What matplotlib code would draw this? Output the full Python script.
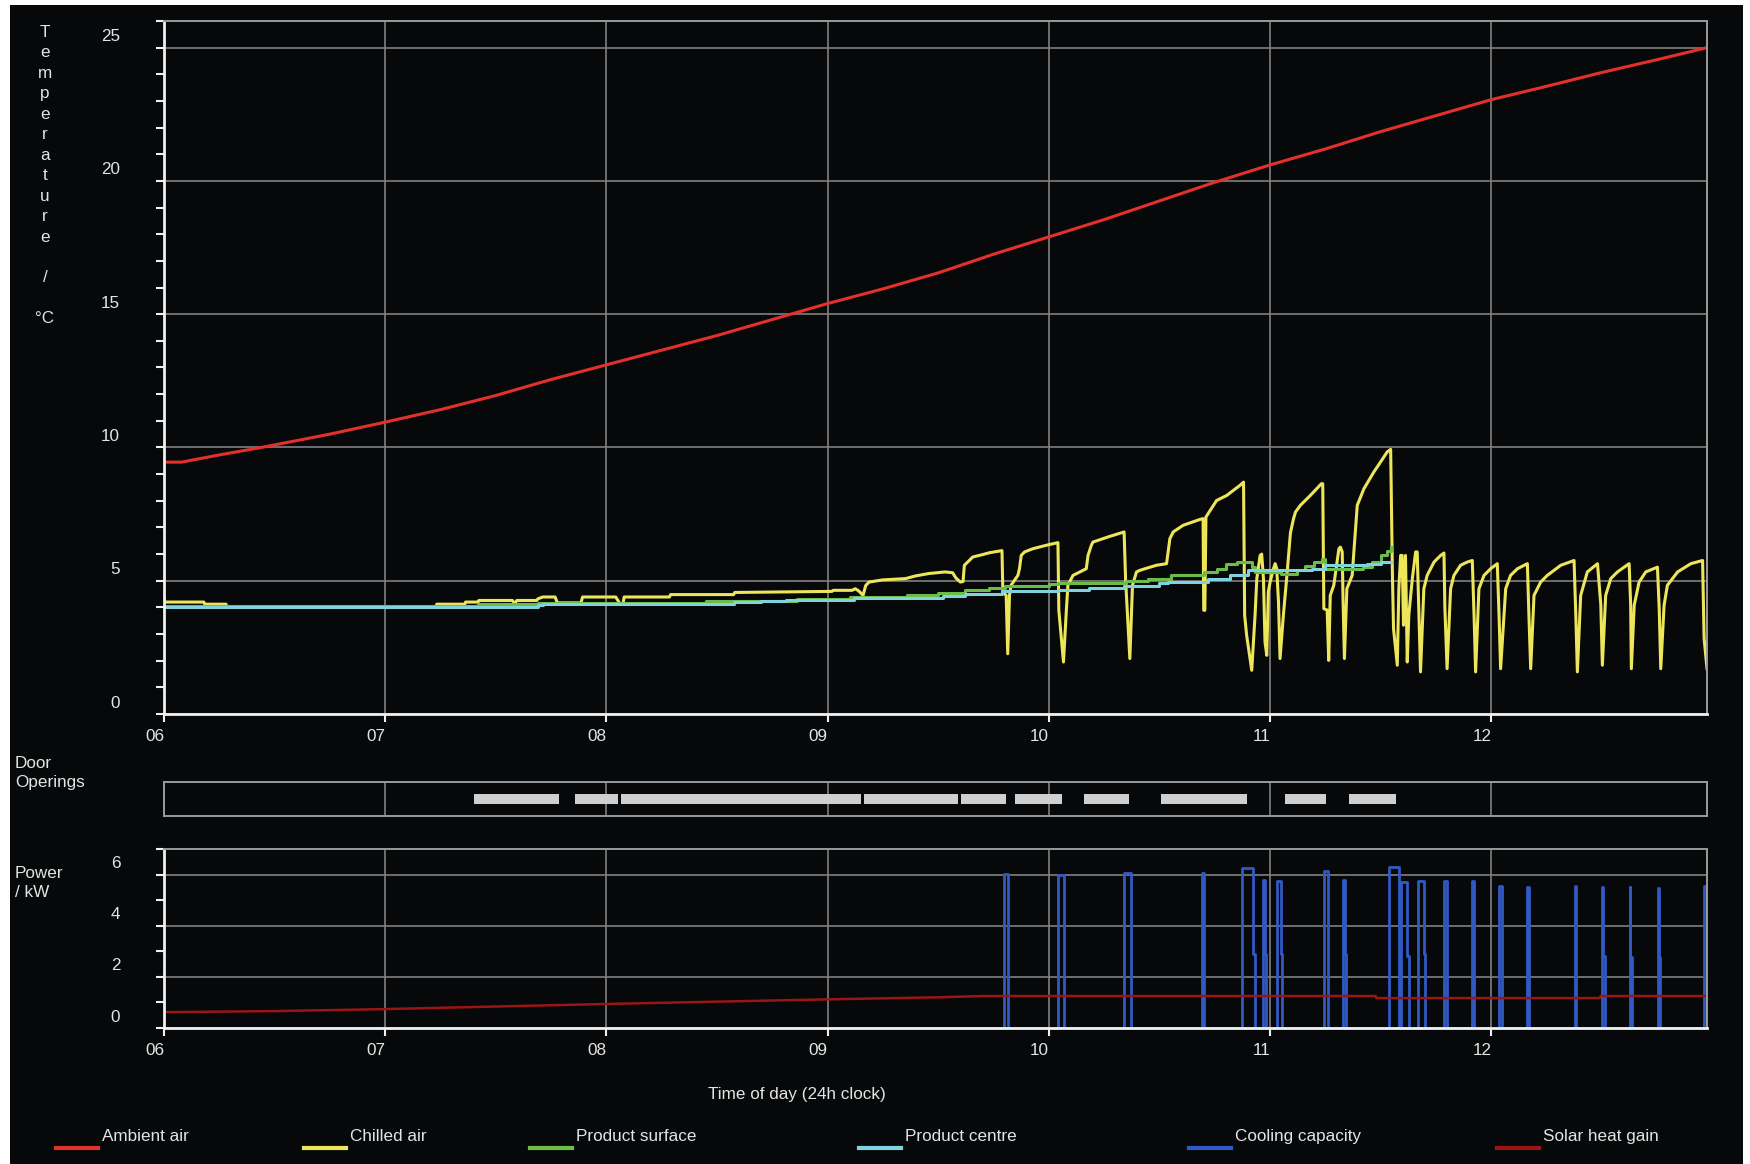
import numpy as np
import matplotlib
matplotlib.use("Agg")
import matplotlib.pyplot as plt
from matplotlib.lines import Line2D
from matplotlib.patches import Rectangle
from matplotlib.ticker import MultipleLocator
from matplotlib.transforms import ScaledTranslation

plt.rcParams['font.family'] = ['Liberation Sans', 'DejaVu Sans']

# ---------------------------------------------------------------- data
hours = [6, 7, 8, 9, 10, 11, 12]
hour_labels = ["06", "07", "08", "09", "10", "11", "12"]
t_end = 12.975

temp_ticks = [0, 5, 10, 15, 20, 25]
power_ticks = [0, 2, 4, 6]

# Ambient air temperature (h, degC)
ambient_t = [6.00, 6.08, 6.25, 6.44, 6.75, 7.00, 7.25, 7.50, 7.75, 8.00, 8.25, 8.50,
             8.75, 9.00, 9.25, 9.50, 9.75, 10.00, 10.25, 10.50, 10.75, 11.00, 11.25,
             11.50, 11.75, 12.00, 12.25, 12.50, 12.75, 12.975]
ambient_v = [9.45, 9.45, 9.72, 10.00, 10.50, 10.95, 11.42, 11.95, 12.55, 13.10, 13.65, 14.20,
             14.80, 15.40, 15.95, 16.55, 17.25, 17.90, 18.55, 19.25, 19.95, 20.60, 21.20,
             21.85, 22.45, 23.05, 23.55, 24.07, 24.55, 25.00]

# Chilled air temperature (h, degC)
chilled_t = [6.000, 6.004, 6.180, 6.184, 6.280, 6.285, 7.230, 7.233, 7.360, 7.363, 7.420, 7.423,
             7.575, 7.585, 7.595, 7.685, 7.690, 7.712, 7.768, 7.778, 7.885, 7.892, 8.042, 8.052,
             8.062, 8.075, 8.080, 8.285, 8.290, 8.575, 8.580, 9.020, 9.025, 9.110, 9.125, 9.140,
             9.160, 9.172, 9.187, 9.247, 9.352, 9.397, 9.457, 9.531, 9.565, 9.580, 9.600, 9.612,
             9.618, 9.656, 9.700, 9.731, 9.788, 9.792, 9.807, 9.814, 9.822, 9.829, 9.860, 9.867,
             9.875, 9.890, 9.927, 9.988, 10.041, 10.045, 10.066, 10.079, 10.086, 10.109, 10.169,
             10.177, 10.192, 10.199, 10.270, 10.340, 10.347, 10.366, 10.378, 10.396, 10.411,
             10.486, 10.532, 10.547, 10.562, 10.607, 10.683, 10.697, 10.700, 10.705, 10.710,
             10.758, 10.804, 10.864, 10.880, 10.885, 10.894, 10.917, 10.932, 10.940, 10.955,
             10.962, 10.970, 10.977, 10.985, 10.992, 11.000, 11.015, 11.023, 11.030, 11.038,
             11.045, 11.060, 11.076, 11.092, 11.106, 11.115, 11.137, 11.182, 11.232, 11.238,
             11.243, 11.258, 11.265, 11.272, 11.288, 11.311, 11.318, 11.326, 11.330, 11.336,
             11.347, 11.371, 11.386, 11.394, 11.424, 11.469, 11.499, 11.529, 11.545, 11.548,
             11.553, 11.558, 11.575, 11.582, 11.590, 11.597, 11.603, 11.612, 11.620, 11.627,
             11.643, 11.658, 11.665, 11.673, 11.680, 11.695, 11.710, 11.741, 11.771, 11.786,
             11.790, 11.800, 11.816, 11.831, 11.861, 11.891, 11.914, 11.922, 11.929, 11.944,
             11.967, 11.997, 12.027, 12.035, 12.042, 12.065, 12.087, 12.118, 12.163, 12.170,
             12.178, 12.193, 12.223, 12.253, 12.314, 12.374, 12.382, 12.389, 12.404, 12.434,
             12.480, 12.495, 12.502, 12.517, 12.540, 12.570, 12.623, 12.630, 12.633, 12.646,
             12.668, 12.698, 12.751, 12.759, 12.766, 12.781, 12.796, 12.842, 12.902, 12.955,
             12.962, 12.975]
chilled_v = [4.35, 4.20, 4.20, 4.12, 4.12, 4.02, 4.02, 4.12, 4.12, 4.20, 4.20, 4.26,
             4.26, 4.14, 4.26, 4.26, 4.32, 4.39, 4.39, 4.17, 4.17, 4.39, 4.39, 4.26,
             4.12, 4.14, 4.39, 4.39, 4.48, 4.48, 4.56, 4.60, 4.64, 4.64, 4.70, 4.62,
             4.45, 4.82, 4.95, 5.03, 5.08, 5.18, 5.27, 5.33, 5.30, 5.10, 4.95, 4.97,
             5.58, 5.89, 5.98, 6.05, 6.13, 4.58, 4.45, 2.26, 4.45, 4.83, 5.20, 5.45,
             5.95, 6.08, 6.20, 6.33, 6.43, 3.89, 1.95, 3.89, 4.83, 5.20, 5.45,
             5.95, 6.33, 6.45, 6.65, 6.83, 5.00, 2.08, 4.83, 5.33, 5.39,
             5.58, 5.64, 6.58, 6.83, 7.08, 7.30, 7.33, 3.89, 3.89, 7.39,
             8.01, 8.20, 8.58, 8.70, 3.70, 2.95, 1.64, 3.70, 5.08, 5.95,
             6.00, 5.08, 2.70, 2.20, 4.58, 4.95, 5.45, 5.64, 5.45, 4.20,
             2.08, 3.70, 5.20, 6.80, 7.33, 7.58, 7.83, 8.20, 8.64, 8.64,
             3.95, 3.90, 2.01, 4.45, 4.83, 6.20, 6.26, 6.08, 4.20, 2.08,
             4.70, 5.20, 6.95, 7.83, 8.45, 9.08, 9.45, 9.83, 9.93, 8.07,
             5.20, 3.20, 1.83, 4.70, 5.95, 5.95, 3.33, 5.95, 1.95, 3.70,
             5.08, 6.08, 6.08, 3.70, 1.58, 4.70, 5.20, 5.70, 5.95, 6.04,
             4.00, 1.70, 4.70, 5.20, 5.58, 5.70, 5.76, 3.70, 1.58, 4.70,
             5.20, 5.45, 5.64, 3.70, 1.70, 4.70, 5.20, 5.45, 5.64, 3.70,
             1.70, 4.45, 4.95, 5.20, 5.58, 5.76, 3.70, 1.58, 4.45, 5.33,
             5.64, 4.10, 1.83, 4.45, 5.08, 5.33, 5.64, 4.08, 1.70, 4.08,
             4.95, 5.33, 5.51, 3.95, 1.70, 4.08, 4.83, 5.33, 5.64, 5.76,
             2.83, 1.70]

# Product surface temperature (h, degC), held between readings
surface_t = [6.00, 7.42, 7.69, 8.45, 8.86, 9.10, 9.36, 9.50, 9.62, 9.73, 9.80, 10.00,
             10.04, 10.35, 10.45, 10.55, 10.70, 10.76, 10.80, 10.85, 10.92, 10.93, 11.05,
             11.12, 11.16, 11.20, 11.235, 11.25, 11.42, 11.46, 11.50, 11.53, 11.548]
surface_v = [4.05, 4.12, 4.17, 4.24, 4.33, 4.38, 4.46, 4.55, 4.64, 4.72, 4.80, 4.87,
             4.93, 5.00, 5.08, 5.20, 5.33, 5.45, 5.64, 5.72, 5.50, 5.33, 5.26,
             5.40, 5.55, 5.70, 5.83, 5.45, 5.52, 5.70, 5.95, 6.12, 6.26]

# Product centre temperature (h, degC), held between readings
centre_t = [6.00, 7.69, 7.715, 8.575, 8.70, 8.81, 9.12, 9.52, 9.62, 9.79, 10.04, 10.18,
            10.34, 10.50, 10.54, 10.72, 10.82, 10.90, 11.19, 11.25, 11.44, 11.50, 11.548]
centre_v = [4.00, 4.08, 4.14, 4.21, 4.25, 4.29, 4.34, 4.42, 4.50, 4.60, 4.66, 4.73,
            4.80, 4.90, 4.95, 5.08, 5.20, 5.39, 5.45, 5.58, 5.64, 5.70, 5.72]

# Door opening periods (h)
door_open = [7.400, 7.859, 8.066, 9.164, 9.605, 9.848, 10.158, 10.505, 11.068, 11.356]
door_close = [7.787, 8.052, 9.150, 9.591, 9.807, 10.059, 10.361, 10.896, 11.252, 11.567]

# Refrigeration unit running periods (h) and delivered cooling (kW)
cool_on = [9.798, 10.040, 10.340, 10.690, 10.875, 10.967, 11.033, 11.242, 11.330, 11.538,
           11.593, 11.670, 11.787, 11.912, 12.033, 12.160, 12.378, 12.499, 12.626, 12.754,
           12.963]
cool_off = [9.813, 10.068, 10.370, 10.700, 10.930, 10.982, 11.055, 11.264, 11.345, 11.582,
            11.626, 11.700, 11.798, 11.923, 12.048, 12.170, 12.385, 12.512, 12.635, 12.763,
            12.975]
cool_peak = [6.04, 6.00, 6.06, 6.06, 6.24, 5.80, 5.76, 6.15, 5.80, 6.30,
             5.70, 5.76, 5.73, 5.73, 5.56, 5.53, 5.56, 5.50, 5.50, 5.47, 5.56]
cool_tail = [0, 0, 0, 0, 2.88, 2.88, 2.88, 0, 2.88, 0,
             2.80, 2.88, 0, 0, 0, 0, 0, 2.80, 2.76, 2.76, 0]

# Solar heat gain (h, kW)
solar_t = [6.00, 6.50, 7.00, 7.50, 8.00, 8.50, 9.00, 9.50, 9.70, 11.477, 11.480, 12.490,
           12.495, 12.975]
solar_v = [0.62, 0.66, 0.74, 0.84, 0.94, 1.03, 1.12, 1.20, 1.25, 1.25, 1.17, 1.17,
           1.25, 1.25]

series_labels = ["Ambient air", "Chilled air", "Product surface", "Product centre",
                 "Cooling capacity", "Solar heat gain"]
series_colors = ["#e3302b", "#eee65a", "#6cbd45", "#80d2de", "#3159c4", "#9c1515"]

# ---------------------------------------------------------------- style
W, H = 1750, 1164
BG = "#060809"
TXT = "#e4e4e4"
GRID = "#808080"
FS = 12.3


def fx(px):
    return px / W


def fy(px):
    return 1 - px / H


fig = plt.figure(figsize=(W / 100, H / 100), dpi=100, facecolor="white")
fig.add_artist(Rectangle((fx(10), 0), fx(1743) - fx(10), fy(5), transform=fig.transFigure,
                         facecolor=BG, edgecolor="none", zorder=-10))

left, width = fx(164), (1707 - 164) / W
ax_t = fig.add_axes([left, fy(714), width, (714 - 21) / H])
ax_d = fig.add_axes([left, fy(816), width, (816 - 782) / H])
ax_p = fig.add_axes([left, fy(1028), width, (1028 - 849) / H])

for ax in (ax_t, ax_d, ax_p):
    ax.set_facecolor(BG)
    ax.set_xlim(6, t_end)
    ax.set_axisbelow(True)
    for side in ("top", "right"):
        ax.spines[side].set_color("#9a9a9a")
        ax.spines[side].set_linewidth(1.4)
    for side in ("left", "bottom"):
        ax.spines[side].set_color("#f0f0f0")
        ax.spines[side].set_linewidth(2.0)

# Temperature and power panels share the tick layout
for ax, ymax, yt in ((ax_t, 26, temp_ticks), (ax_p, 7, power_ticks)):
    ax.set_ylim(0, ymax)
    ax.set_xticks(hours)
    ax.set_xticklabels(hour_labels)
    ax.set_yticks(yt)
    ax.set_yticklabels([str(v) for v in yt])
    ax.yaxis.set_minor_locator(MultipleLocator(1))
    ax.tick_params(axis="y", which="both", direction="out", length=5.5, width=1.5,
                   color="#f0f0f0", labelcolor=TXT, labelsize=FS, pad=26)
    ax.tick_params(axis="x", which="major", direction="out", length=6, width=1.5,
                   color="#f0f0f0", labelcolor=TXT, labelsize=FS, pad=5)
    ax.grid(True, which="major", color=GRID, linewidth=1.2)
    for lab in ax.get_xticklabels():
        lab.set_horizontalalignment("right")
    for lab in ax.get_yticklabels():
        lab.set_transform(lab.get_transform() + ScaledTranslation(0, 9 / 72, fig.dpi_scale_trans))

# Temperatures
ax_t.plot(ambient_t, ambient_v, color=series_colors[0], lw=2.2)
ax_t.plot(chilled_t, chilled_v, color=series_colors[1], lw=2.2)
ax_t.plot(surface_t, surface_v, color=series_colors[2], lw=2.2, drawstyle="steps-post")
ax_t.plot(centre_t, centre_v, color=series_colors[3], lw=2.2, drawstyle="steps-post")

# Door openings
ax_d.set_ylim(0, 1)
ax_d.set_yticks([])
ax_d.set_xticks(hours)
ax_d.tick_params(axis="x", length=0, labelbottom=False)
ax_d.grid(True, axis="x", color=GRID, linewidth=1.2)
for side in ("left", "bottom"):
    ax_d.spines[side].set_color("#9a9a9a")
    ax_d.spines[side].set_linewidth(1.4)
ax_d.hlines([0.5] * len(door_open), door_open, door_close, colors="#cfcfcf", linewidth=7.2)

# Cooling capacity as a stepped trace
ct, cp = [6.0], [0.0]
for on, off, pk, tail in zip(cool_on, cool_off, cool_peak, cool_tail):
    if tail > 0:
        ts = off - 0.006
        ct += [on, on, ts, ts, off, off]
        cp += [0, pk, pk, tail, tail, 0]
    else:
        ct += [on, on, off, off]
        cp += [0, pk, pk, 0]
ct.append(t_end)
cp.append(0.0)
ax_p.plot(ct, cp, color=series_colors[4], lw=2.0)
ax_p.plot(solar_t, solar_v, color=series_colors[5], lw=1.8)

# Axis captions
y_caption = list("Temperature") + ["", "/", "", "°C"]
for i, ch in enumerate(y_caption):
    if ch:
        fig.text(fx(45), fy(37 + i * 20.45), ch, ha="center", va="baseline",
                 color=TXT, fontsize=FS)
fig.text(fx(15), fy(768), "Door", ha="left", va="baseline", color=TXT, fontsize=FS)
fig.text(fx(15), fy(787), "Operings", ha="left", va="baseline", color=TXT, fontsize=FS)
fig.text(fx(15), fy(878), "Power", ha="left", va="baseline", color=TXT, fontsize=FS)
fig.text(fx(15), fy(897), "/ kW", ha="left", va="baseline", color=TXT, fontsize=FS)
fig.text(fx(797), fy(1095), "Time of day (24h clock)", ha="center", va="center",
         color=TXT, fontsize=FS)

# Legend row
legend_x = [56, 304, 530, 859, 1189, 1497]
for x0, lab, col in zip(legend_x, series_labels, series_colors):
    fig.add_artist(Line2D([fx(x0), fx(x0 + 42)], [fy(1148), fy(1148)], color=col, lw=3,
                          transform=fig.transFigure))
    fig.text(fx(x0 + 46), fy(1141), lab, ha="left", va="baseline", color=TXT, fontsize=FS)

fig.savefig("out.png", dpi=100, facecolor=fig.get_facecolor())
